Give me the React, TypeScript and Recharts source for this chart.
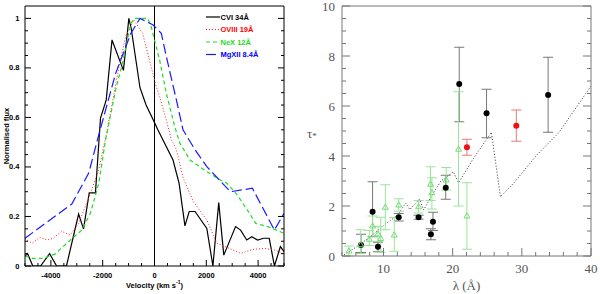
import React from "react";
import { ComposedChart, LineChart, Line, Scatter, ErrorBar, XAxis, YAxis, ReferenceLine, Legend } from "recharts";

// left panel: normalised line profiles, [velocity km/s, flux]
const cviProfile = [
  [-5000, 0.04], [-4900, 0.05], [-4700, 0], [-4400, 0], [-4050, 0.05], [-3780, 0], [-3400, 0],
  [-2930, 0.21], [-2740, 0.15], [-2520, 0.295], [-2280, 0.295], [-2085, 0.597], [-1865, 0.67],
  [-1640, 0.913], [-1200, 0.79], [-990, 1.0], [-900, 0.96], [-560, 0.72], [-325, 0.65], [0, 0.58],
  [130, 0.55], [390, 0.496], [715, 0.428], [950, 0.334], [1175, 0.162], [1340, 0.22], [1565, 0.22],
  [2020, 0.152], [2255, 0], [2480, 0.256], [2675, 0.044], [3130, 0.159], [3325, 0.145], [3560, 0.105],
  [3755, 0.118], [3980, 0.105], [4210, 0.112], [4430, 0.112], [4630, 0], [4860, 0.078], [5000, 0.058],
];
const oviiiProfile = [
  [-5000, 0.11], [-4730, 0.092], [-4430, 0.116], [-4150, 0.105], [-3910, 0.112], [-3585, 0.14],
  [-3260, 0.125], [-2930, 0.172], [-2475, 0.294], [-2150, 0.39], [-1825, 0.55], [-1370, 0.805],
  [-1107, 0.93], [-800, 0.994], [-460, 0.94], [-130, 0.805], [65, 0.725], [200, 0.684], [456, 0.59],
  [650, 0.51], [850, 0.469], [1108, 0.354], [1500, 0.26], [2020, 0.186], [2410, 0.092], [2870, 0.072],
  [3325, 0.051], [3780, 0.067], [4235, 0.071], [4630, 0.065], [5000, 0.048],
];
const nexProfile = [
  [-5000, 0.04], [-4700, 0.031], [-4300, 0.031], [-3845, 0.048], [-3325, 0.098], [-2805, 0.145],
  [-2475, 0.213], [-2150, 0.334], [-1890, 0.509], [-1500, 0.711], [-1240, 0.819], [-910, 0.98],
  [-780, 1.0], [-260, 1.0], [-130, 0.967], [196, 0.832], [456, 0.698], [782, 0.563], [978, 0.496],
  [1370, 0.428], [2020, 0.381], [2540, 0.347], [2800, 0.334], [3195, 0.287], [3585, 0.226],
  [3910, 0.172], [4370, 0.159], [5000, 0.132],
];
const mgxiiProfile = [
  [-5000, 0.112], [-3195, 0.25], [-2540, 0.375], [-2150, 0.53], [-1500, 0.778], [-910, 0.94],
  [-560, 1.0], [-65, 0.974], [262, 0.94], [456, 0.846], [847, 0.67], [1100, 0.55], [1560, 0.47],
  [2020, 0.401], [2930, 0.3], [3780, 0.314], [4630, 0.145], [5000, 0.213],
];

const velTicks = [-5000, -4500, -4000, -3500, -3000, -2500, -2000, -1500, -1000, -500, 0, 500, 1000, 1500, 2000, 2500, 3000, 3500, 4000, 4500, 5000];
const velMajor = [-4000, -2000, 0, 2000, 4000];
const fluxTicks = [0, 0.05, 0.1, 0.15, 0.2, 0.25, 0.3, 0.35, 0.4, 0.45, 0.5, 0.55, 0.6, 0.65, 0.7, 0.75, 0.8, 0.85, 0.9, 0.95, 1];
const fluxMajor = [0, 0.2, 0.4, 0.6, 0.8, 1];

// right panel: optical depth vs wavelength, [lambda, tau, errLow, errHigh]
const blackPoints = [
  [6.75, 0.44, 0.3, 0.43], [8.42, 1.77, 1.0, 1.2], [9.2, 0.37, 0.2, 0.18], [12.2, 1.55, 0.15, 0.15],
  [15.07, 1.55, 0.08, 0.08], [16.85, 0.87, 0.22, 0.22], [17.15, 1.37, 0.35, 0.38], [19.0, 2.73, 0.46, 0.5],
  [20.95, 6.88, 1.51, 1.47], [24.9, 5.71, 0.98, 0.96], [33.8, 6.44, 1.49, 1.51],
];
const redPoints = [
  [22.06, 4.35, 0.32, 0.32], [29.2, 5.21, 0.62, 0.63],
];
const greenPoints = [
  [5.0, 0.2, 0.2, 0.2], [6.7, 0.45, 0.35, 0.6], [7.95, 0.67, 0.25, 0.35], [8.42, 1.2, 0.4, 0.4],
  [9.2, 0.88, 0.3, 0.3], [9.6, 0.7, 0.55, 0.85], [10.26, 1.95, 0.9, 0.9], [11.56, 0.84, 0.65, 0.7],
  [12.2, 2.04, 0.25, 0.25], [15.07, 1.97, 0.25, 0.25], [16.8, 2.87, 0.65, 0.7], [17.0, 2.53, 0.65, 0.6],
  [19.07, 3.04, 0.4, 0.5], [20.85, 4.27, 2.27, 2.3], [22.06, 1.6, 1.33, 1.33],
];
const modelCurve = [
  [4.3, 0.05], [6, 0.35], [7, 0.55], [8, 0.75], [9, 0.98], [10, 1.22], [11, 1.42], [12, 1.62],
  [13.2, 2.12], [13.8, 1.86], [15.2, 2.27], [15.8, 1.84], [17, 2.42], [18.3, 3.0], [20.1, 3.37],
  [20.85, 2.93], [23, 3.9], [25.6, 4.95], [26.9, 2.37], [28.8, 2.91], [32.2, 4.05], [35.4, 4.95],
  [37.5, 5.8], [40, 6.8],
];

const lamTicks = [4, 6, 8, 10, 12, 14, 16, 18, 20, 22, 24, 26, 28, 30, 32, 34, 36, 38, 40];
const lamMajor = [10, 20, 30, 40];
const tauTicks = [0, 0.5, 1, 1.5, 2, 2.5, 3, 3.5, 4, 4.5, 5, 5.5, 6, 6.5, 7, 7.5, 8, 8.5, 9, 9.5, 10];
const tauMajor = [0, 2, 4, 6, 8, 10];

const profiles = [
  { name: "CVI 34Å", data: cviProfile, color: "#000000", text: "#000000", dash: undefined, width: 1.2 },
  { name: "OVIII 19Å", data: oviiiProfile, color: "#ff2020", text: "#ff0000", dash: "1 2", width: 1 },
  { name: "NeX 12Å", data: nexProfile, color: "#22dd22", text: "#22dd22", dash: "4 3", width: 1.2 },
  { name: "MgXII 8.4Å", data: mgxiiProfile, color: "#1a1aff", text: "#0000ff", dash: "10 4", width: 1.2 },
];

const leftFont = { fontFamily: "'Liberation Sans', Arial, sans-serif", fontWeight: 700, fontSize: 7.5 };
const rightFont = { fontFamily: "'Liberation Serif', 'DejaVu Serif', serif", fontSize: 13 };

type Side = "bottom" | "top" | "left" | "right";

// inward ticks on every side of the frame, labels on major ticks only
function makeTick(side: Side, majors: number[], major: number, minor: number, color: string, gap = 0, font?: any, fmt?: (v: number) => string) {
  return (p: any) => {
    const v = p.payload.value;
    const big = majors.includes(v);
    const len = big ? major : minor;
    const { x, y } = p;
    let line;
    let label = null;
    const txt = fmt && big ? fmt(v) : null;
    if (side === "bottom") {
      line = <line x1={x} x2={x} y1={y} y2={y - len} stroke={color} />;
      if (txt) label = <text x={x} y={y + gap} textAnchor="middle" dominantBaseline="central" style={font}>{txt}</text>;
    } else if (side === "top") {
      line = <line x1={x} x2={x} y1={y} y2={y + len} stroke={color} />;
    } else if (side === "left") {
      line = <line x1={x} x2={x + len} y1={y} y2={y} stroke={color} />;
      if (txt) label = <text x={x - gap} y={y} textAnchor="end" dominantBaseline="central" style={font}>{txt}</text>;
    } else {
      line = <line x1={x} x2={x - len} y1={y} y2={y} stroke={color} />;
    }
    return <g>{line}{label}</g>;
  };
}

function ProfileLegend() {
  return (
    <svg width={70} height={56} style={{ display: "block" }}>
      {profiles.map((s, i) => (
        <g key={s.name}>
          <line x1={1} x2={15} y1={7 + 12.5 * i} y2={7 + 12.5 * i} stroke={s.color} strokeDasharray={s.dash} strokeWidth={s.width} />
          <text x={15.5} y={7 + 12.5 * i} dominantBaseline="central" fill={s.text} style={leftFont}>{s.name}</text>
        </g>
      ))}
    </svg>
  );
}

function ProfilePanel() {
  const fluxFmt = (v: number) => String(v);
  return (
    <LineChart width={300} height={294} margin={{ top: 5, right: 15, bottom: 0, left: 0 }}>
      <XAxis type="number" dataKey="v" domain={[-5000, 5000]} allowDataOverflow ticks={velTicks} interval={0}
        height={28} tickSize={0} tickMargin={0} tickLine={false} stroke="#000"
        tick={makeTick("bottom", velMajor, 6, 3, "#000", 9, { ...leftFont, fill: "#000" }, (v) => String(v))}
        label={(p: any) => {
          const vb = p.viewBox;
          return (
            <text x={vb.x + vb.width / 2} y={vb.y + 19} textAnchor="middle" dominantBaseline="central" style={leftFont}>
              Velocity (km s<tspan fontSize={5} dy={-3}>-1</tspan><tspan dy={3}>)</tspan>
            </text>
          );
        }} />
      <XAxis xAxisId="top" orientation="top" type="number" domain={[-5000, 5000]} allowDataOverflow ticks={velTicks} interval={0}
        height={1} tickSize={0} tickMargin={0} tickLine={false} stroke="#000" tick={makeTick("top", velMajor, 6, 3, "#000")} />
      <YAxis type="number" domain={[0, 1.05]} allowDataOverflow ticks={fluxTicks} interval={0}
        width={25} tickSize={0} tickMargin={0} tickLine={false} stroke="#000"
        tick={makeTick("left", fluxMajor, 6, 3, "#000", 5.5, { ...leftFont, fill: "#000" }, fluxFmt)}
        label={(p: any) => {
          const vb = p.viewBox;
          const cx = vb.x + 6;
          const cy = vb.y + vb.height / 2;
          return (
            <text x={cx} y={cy} textAnchor="middle" dominantBaseline="central" transform={`rotate(-90 ${cx} ${cy})`} style={leftFont}>
              Normalised flux
            </text>
          );
        }} />
      <YAxis yAxisId="right" orientation="right" type="number" domain={[0, 1.05]} allowDataOverflow ticks={fluxTicks} interval={0}
        width={1} tickSize={0} tickMargin={0} tickLine={false} stroke="#000" tick={makeTick("right", fluxMajor, 6, 3, "#000")} />
      <ReferenceLine x={0} stroke="#000" strokeWidth={1} />
      {profiles.map((s) => (
        <Line key={s.name} name={s.name} data={s.data.map(([v, f]) => ({ v, f }))} dataKey="f" type="linear"
          stroke={s.color} strokeWidth={s.width} strokeDasharray={s.dash} dot={false} activeDot={false}
          isAnimationActive={false} />
      ))}
      <Legend layout="vertical" align="center" verticalAlign="middle" content={() => <ProfileLegend />}
        wrapperStyle={{ position: "absolute", left: 205, top: 10, width: 70, height: 56 }} />
    </LineChart>
  );
}

const toPts = (arr: number[][]) => arr.map(([x, y, lo, hi]) => ({ x, y, err: [lo, hi] }));

function DepthPanel() {
  const grey = "#777";
  const textFont = { ...rightFont, fill: "#555" };
  return (
    <ComposedChart width={300} height={294} margin={{ top: 5, right: 8, bottom: 0, left: 0 }}>
      <XAxis type="number" dataKey="x" domain={[4, 40]} allowDataOverflow ticks={lamTicks} interval={0}
        height={38} tickSize={0} tickMargin={0} tickLine={false} stroke={grey}
        tick={makeTick("bottom", lamMajor, 8, 4, grey, 12.5, textFont, (v) => String(v))}
        label={(p: any) => {
          const vb = p.viewBox;
          return (
            <text x={vb.x + vb.width / 2} y={vb.y + 29} textAnchor="middle" dominantBaseline="central" style={textFont}>
              λ (Å)
            </text>
          );
        }} />
      <XAxis xAxisId="top" orientation="top" type="number" domain={[4, 40]} allowDataOverflow ticks={lamTicks} interval={0}
        height={1} tickSize={0} tickMargin={0} tickLine={false} stroke={grey} tick={makeTick("top", lamMajor, 8, 4, grey)} />
      <YAxis type="number" dataKey="y" domain={[0, 10]} allowDataOverflow ticks={tauTicks} interval={0}
        width={42} tickSize={0} tickMargin={0} tickLine={false} stroke={grey}
        tick={makeTick("left", tauMajor, 8, 4, grey, 7, textFont, (v) => String(v))}
        label={(p: any) => {
          const vb = p.viewBox;
          return (
            <text x={vb.x + 7} y={vb.y + vb.height / 2 + 2} dominantBaseline="central" style={textFont}>
              τ<tspan fontSize={9} dy={3}>*</tspan>
            </text>
          );
        }} />
      <YAxis yAxisId="right" orientation="right" type="number" domain={[0, 10]} allowDataOverflow ticks={tauTicks} interval={0}
        width={1} tickSize={0} tickMargin={0} tickLine={false} stroke={grey} tick={makeTick("right", tauMajor, 8, 4, grey)} />
      <Line data={modelCurve.map(([x, y]) => ({ x, y }))} dataKey="y" type="linear" stroke="#333" strokeWidth={1}
        strokeDasharray="1 2" dot={false} activeDot={false} isAnimationActive={false} />
      <Scatter data={toPts(blackPoints)} isAnimationActive={false}
        shape={(p: any) => <circle cx={p.cx} cy={p.cy} r={3} fill="#000" />}>
        <ErrorBar dataKey="err" direction="y" width={5} stroke="#777" strokeWidth={1} isAnimationActive={false} />
      </Scatter>
      <Scatter data={toPts(redPoints)} isAnimationActive={false}
        shape={(p: any) => <circle cx={p.cx} cy={p.cy} r={3} fill="#ee1111" />}>
        <ErrorBar dataKey="err" direction="y" width={5} stroke="#ee7777" strokeWidth={1} isAnimationActive={false} />
      </Scatter>
      <Scatter data={toPts(greenPoints)} isAnimationActive={false}
        shape={(p: any) => (
          <path d={`M${p.cx},${p.cy - 3.2} L${p.cx + 3},${p.cy + 2} L${p.cx - 3},${p.cy + 2} Z`} fill="none" stroke="#77dd77" strokeWidth={1} />
        )}>
        <ErrorBar dataKey="err" direction="y" width={5} stroke="#99e699" strokeWidth={1} isAnimationActive={false} />
      </Scatter>
    </ComposedChart>
  );
}

export default function App() {
  return (
    <div style={{ position: "absolute", left: 0, top: 0, width: 600, height: 294, display: "flex", background: "#fff" }}>
      <ProfilePanel />
      <DepthPanel />
    </div>
  );
}
